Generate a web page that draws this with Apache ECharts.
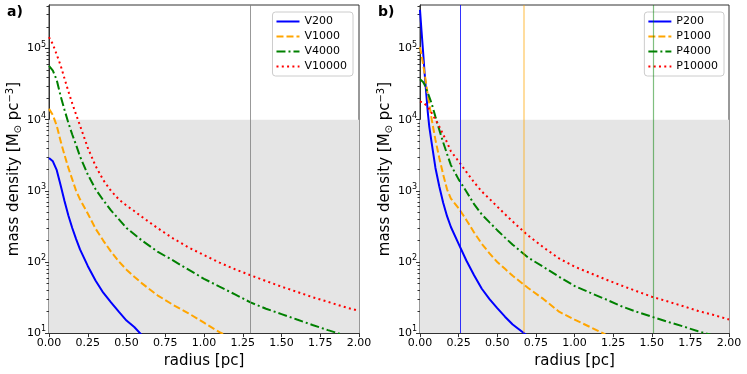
<!DOCTYPE html>
<html>
<head>
<meta charset="utf-8">
<script src="https://cdn.jsdelivr.net/npm/echarts@6.0.0/dist/echarts.min.js"></script>
<style>
html, body { margin: 0; padding: 0; background: #fff; }
#chart { width: 747px; height: 374px; }
</style>
</head>
<body>
<div id="chart"></div>
<script>
// radius grid [pc] for each panel
var radiusA = [0, 0.025, 0.05, 0.075, 0.1, 0.125, 0.15, 0.175, 0.2, 0.25, 0.3, 0.35, 0.4, 0.45, 0.5, 0.55, 0.6, 0.7, 0.8, 0.9, 1.0, 1.1, 1.2, 1.3, 1.4, 1.5, 1.6, 1.7, 1.8, 1.9, 2.0];
var radiusB = [0, 0.01, 0.02, 0.03, 0.04, 0.05, 0.06, 0.075, 0.1, 0.125, 0.15, 0.175, 0.2, 0.25, 0.3, 0.35, 0.4, 0.45, 0.5, 0.55, 0.6, 0.7, 0.8, 0.9, 1.0, 1.1, 1.2, 1.3, 1.4, 1.5, 1.6, 1.7, 1.8, 1.9, 2.0];

// panel a) mass density [Msun pc^-3]
var V200 = [2900, 2600, 1950, 1200, 720, 450, 300, 210, 150, 88, 55, 37, 27, 20, 15, 12.2, 9.3];
var V1000 = [14200, 11600, 8200, 5000, 3200, 2100, 1450, 1000, 760, 480, 295, 200, 140, 102, 78, 62, 50, 34, 25, 19, 14, 10.3, 8];
var V4000 = [57000, 49000, 36000, 21500, 13800, 9000, 6200, 4400, 3050, 1700, 1060, 740, 530, 400, 300, 245, 200, 140, 105, 78, 58, 45, 35, 27, 22, 18.5, 15.5, 13, 11, 9.4];
var V10000 = [145000, 115000, 82000, 58000, 38000, 25000, 17000, 11800, 8300, 4050, 2250, 1420, 1000, 760, 620, 520, 430, 300, 215, 160, 125, 98, 79, 65, 54, 45, 38, 32, 27.5, 23.5, 20.5];

// panel b)
var P200 = [350000, 175000, 90000, 45000, 24000, 13000, 8000, 4800, 2100, 1150, 680, 440, 310, 180, 105, 65, 42, 30, 22.5, 17, 13.2, 9];
var P1000 = [105000, 82000, 60000, 44000, 32000, 22500, 17000, 10300, 5200, 2900, 1700, 1050, 780, 570, 390, 260, 180, 132, 100, 80, 64, 43, 30, 20, 15.5, 12.2, 9.6];
var P4000 = [37000, 36000, 34000, 31000, 27000, 24000, 21000, 17000, 11000, 7200, 4800, 3300, 2300, 1450, 980, 650, 466, 360, 280, 220, 175, 115, 85, 62, 46, 37, 30, 24, 20, 17, 14.5, 12.5, 10.6, 9.2];
var P10000 = [18000, 17900, 17500, 16800, 16000, 15000, 14000, 12500, 10000, 8000, 6200, 4800, 3600, 2600, 1850, 1320, 980, 770, 600, 470, 370, 235, 160, 112, 86, 70, 57, 47, 39, 32.5, 28, 24, 20.5, 18, 15.5];

// vertical marker lines [pc]
var markA = [1.3];
var markB = [0.26, 0.67, 1.51];

var yMin = 10, yMax = 410000;
var majorY = [10, 100, 1000, 10000, 100000];
var minorY = [];
for (var e = 1; e <= 5; e++) {
    for (var k = 2; k <= 9; k++) {
        if (k * Math.pow(10, e) < yMax) minorY.push(k * Math.pow(10, e));
    }
}

var font = 'DejaVu Sans';
var frame = '#333';

function pairs(xs, ys) {
    var out = [];
    for (var i = 0; i < ys.length; i++) out.push([xs[i], ys[i]]);
    return out;
}

function curve(name, xs, ys, color, dash, idx) {
    return {
        name: name,
        type: 'line',
        xAxisIndex: idx,
        yAxisIndex: idx * 2,
        data: pairs(xs, ys),
        showSymbol: false,
        symbol: 'none',
        clip: true,
        z: 3,
        lineStyle: { color: color, width: 2, type: dash, cap: 'butt' },
        itemStyle: { color: color }
    };
}

function xAx(idx) {
    return {
        type: 'value', gridIndex: idx, min: 0, max: 2, interval: 0.25,
        name: 'radius [pc]', nameLocation: 'middle', nameGap: 17,
        nameTextStyle: { fontFamily: font, fontSize: 15, color: '#000' },
        axisLine: { show: true, lineStyle: { color: frame, width: 1 } },
        axisTick: { show: true, length: 4, lineStyle: { color: frame } },
        axisLabel: {
            fontFamily: font, fontSize: 11, color: '#000', margin: 5,
            formatter: function (v) { return v.toFixed(2); }
        },
        splitLine: { show: false }
    };
}

function yAx(idx) {
    return [{
        type: 'log', gridIndex: idx, position: 'left', min: yMin, max: yMax, logBase: 10,
        name: 'mass density [M{sub|⊙} pc{sup|−3}]', nameLocation: 'middle', nameGap: 25,
        nameTextStyle: {
            fontFamily: font, fontSize: 15, color: '#000',
            rich: {
                sub: { fontFamily: font, fontSize: 10, padding: [8, 0, 0, 0] },
                sup: { fontFamily: font, fontSize: 10, padding: [0, 0, 8, 0] }
            }
        },
        axisLine: { show: true, lineStyle: { color: frame, width: 1 } },
        axisTick: { show: true, length: 4, customValues: majorY, lineStyle: { color: frame } },
        axisLabel: {
            fontFamily: font, fontSize: 11, color: '#000', margin: 3,
            customValues: majorY,
            formatter: function (v) {
                return '10{sup|' + Math.round(Math.log10(v)) + '}';
            },
            rich: { sup: { fontFamily: font, fontSize: 8, color: '#000', padding: [0, 0, 8, 0] } }
        },
        splitLine: { show: false }
    }, {
        type: 'log', gridIndex: idx, position: 'left', offset: 0, min: yMin, max: yMax, logBase: 10,
        axisLine: { show: false },
        axisTick: { show: true, length: 2.5, customValues: minorY, lineStyle: { color: frame } },
        axisLabel: { show: false },
        splitLine: { show: false }
    }];
}

function helper(idx, marks, colors, widths) {
    return {
        name: 'band' + idx,
        type: 'line',
        xAxisIndex: idx,
        yAxisIndex: idx * 2,
        data: [],
        z: 1,
        silent: true,
        markArea: {
            silent: true,
            itemStyle: { color: '#e5e5e5' },
            data: [[{ coord: [0, 10] }, { coord: [2, 10000] }]]
        },
        markLine: {
            silent: true,
            symbol: ['none', 'none'],
            label: { show: false },
            data: marks.map(function (m, i) {
                return { xAxis: m, lineStyle: { color: colors[i], width: widths[i], type: 'solid' } };
            })
        }
    };
}

function legendBox(names, right) {
    return {
        data: names,
        orient: 'vertical', right: right, top: 12,
        itemWidth: 23, itemHeight: 11, itemGap: 4,
        padding: [4, 6, 4, 3],
        itemStyle: { opacity: 0 },
        backgroundColor: '#fff', borderColor: '#ccc', borderWidth: 1, borderRadius: 3,
        textStyle: { fontFamily: font, fontSize: 11, color: '#000' }
    };
}

var myChart = echarts.init(document.getElementById('chart'), null, { renderer: 'canvas' });

var option = {
    animation: false,
    backgroundColor: '#fff',
    title: [
        { text: 'a)', left: 2, top: 0, textStyle: { fontFamily: font, fontSize: 14, fontWeight: 'bold', color: '#000' } },
        { text: 'b)', left: 373, top: 0, textStyle: { fontFamily: font, fontSize: 14, fontWeight: 'bold', color: '#000' } }
    ],
    grid: [
        { left: 49, top: 5, width: 310, height: 332, show: true, borderColor: frame, borderWidth: 1, backgroundColor: 'transparent' },
        { left: 420, top: 5, width: 309, height: 332, show: true, borderColor: frame, borderWidth: 1, backgroundColor: 'transparent' }
    ],
    legend: [
        legendBox(['V200', 'V1000', 'V4000', 'V10000'], 394),
        legendBox(['P200', 'P1000', 'P4000', 'P10000'], 23)
    ],
    xAxis: [xAx(0), xAx(1)],
    yAxis: yAx(0).concat(yAx(1)),
    series: [
        helper(0, markA, ['rgba(128,128,128,0.8)'], [1]),
        helper(1, markB, ['rgba(0,0,255,0.8)', 'rgba(255,165,0,0.5)', 'rgba(0,128,0,0.5)'], [1, 1.5, 1.2]),
        curve('V200', radiusA, V200, '#0000ff', 'solid', 0),
        curve('V1000', radiusA, V1000, '#ffa500', [7, 3], 0),
        curve('V4000', radiusA, V4000, '#008000', [9, 3, 2, 3], 0),
        curve('V10000', radiusA, V10000, '#ff0000', [2, 3.3], 0),
        curve('P200', radiusB, P200, '#0000ff', 'solid', 1),
        curve('P1000', radiusB, P1000, '#ffa500', [7, 3], 1),
        curve('P4000', radiusB, P4000, '#008000', [9, 3, 2, 3], 1),
        curve('P10000', radiusB, P10000, '#ff0000', [2, 3.3], 1)
    ]
};
myChart.setOption(option);
</script>
</body>
</html>
